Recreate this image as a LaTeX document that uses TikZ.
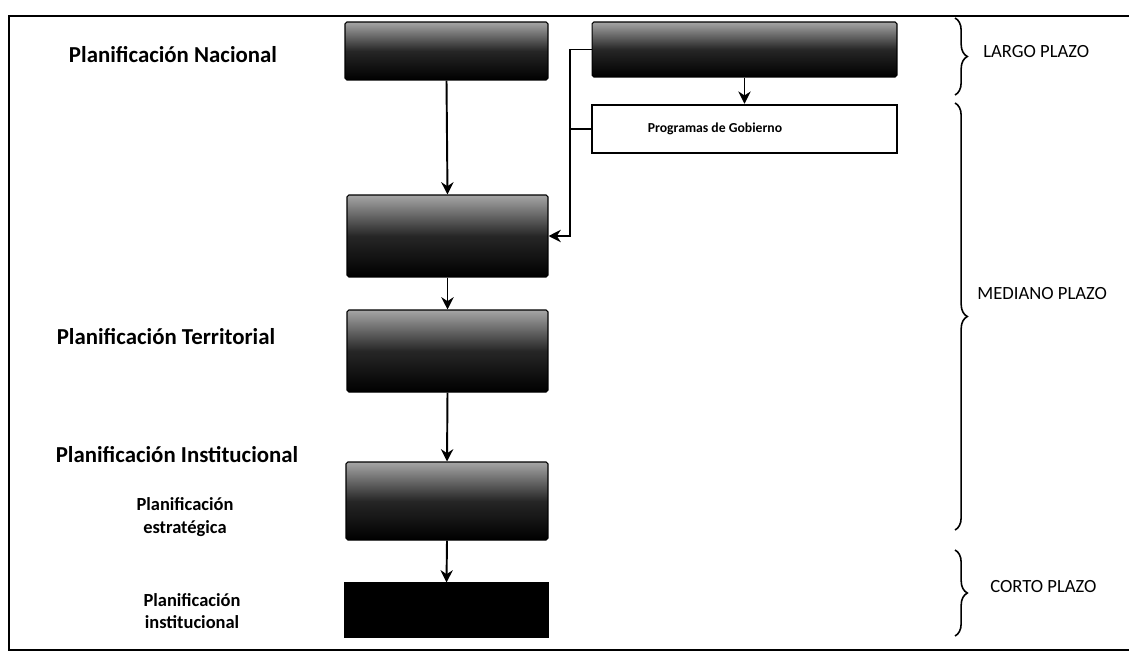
\documentclass[tikz,border=0pt]{standalone}
\usepackage{fontspec}
\setmainfont{Carlito}
\usetikzlibrary{arrows.meta,decorations.pathreplacing,calc}
\begin{document}
\begin{tikzpicture}[x=0.02cm,y=-0.02cm,
  darkbox/.style={draw=black, line width=0.6pt, rounded corners=1pt,
    top color=black!35, bottom color=black, middle color=black!85, inner sep=0pt},
  blackbox/.style={draw=black, fill=black, line width=0.6pt, inner sep=0pt},
  whitebox/.style={draw=black, fill=white, line width=1.4pt, inner sep=0pt},
  arr/.style={line width=1.1pt, -{Stealth[length=7pt,width=7pt]}},
  conn/.style={line width=1.1pt},
  biglabel/.style={font=\bfseries\fontsize{13}{15}\selectfont, inner sep=0pt},
  boxlabel/.style={font=\bfseries\fontsize{7.8}{10}\selectfont, inner sep=0pt},
  smalllabel/.style={font=\bfseries\fontsize{10.5}{13}\selectfont, align=center, inner sep=0pt},
  plazo/.style={font=\fontsize{10.6}{12}\selectfont, anchor=west, inner sep=0pt},
  bracestyle/.style={line width=0.9pt, decorate, decoration={brace, amplitude=7pt}}]
\useasboundingbox (0,0) rectangle (1129,660);
% frame
\draw[line width=1.2pt] (1129,16) -- (9,16) -- (9,650) -- (1129,650);

% boxes
\node[darkbox, minimum width=4.06cm, minimum height=1.16cm] (A) at (446.5,51) {};
\node[darkbox, minimum width=6.1cm, minimum height=1.1cm] (B) at (744.5,49.5) {};
\node[whitebox, minimum width=6.1cm, minimum height=0.96cm] (P) at (744.5,129) {};
\node[boxlabel] (Pt) at (715,129) {Programas de Gobierno};
\node[darkbox, minimum width=4.02cm, minimum height=1.64cm] (C) at (447.5,236) {};
\node[darkbox, minimum width=4.02cm, minimum height=1.64cm] (D) at (447.5,351) {};
\node[darkbox, minimum width=4.04cm, minimum height=1.56cm] (E) at (447,501) {};
\node[blackbox, minimum width=4.06cm, minimum height=1.08cm] (F) at (446.5,610) {};

% connectors
\coordinate (j) at (570,0);
\draw[arr] (A.south) -- (C.north);
\draw[arr] (C.south) -- (D.north);
\draw[arr] (D.south) -- (E.north);
\draw[arr] (E.south) -- (F.north);
\draw[arr] (B.south) -- (P.north);
\draw[arr] (B.west) -- (B.west -| j) -- (j |- C.east) -- (C.east);
\draw[conn] (P.west) -- (P.west -| j);

% left labels
\node[biglabel] (l1) at (173,55) {Planificación Nacional};
\node[biglabel] (l2) at (166,337) {Planificación Territorial};
\node[biglabel] (l3) at (177,455) {Planificación Institucional};
\node[smalllabel] (l4) at (185,517) {Planificación\\estratégica};
\node[smalllabel] (l5) at (192,611) {Planificación\\institucional};

% braces
\draw[bracestyle] (955,18) -- (955,95);
\draw[bracestyle] (955,103) -- (955,530);
\draw[bracestyle] (955,550) -- (955,636);
\node[plazo] (r1) at (983,52) {LARGO PLAZO};
\node[plazo] (r2) at (977,294) {MEDIANO PLAZO};
\node[plazo] (r3) at (990,587) {CORTO PLAZO};
\end{tikzpicture}
\end{document}
